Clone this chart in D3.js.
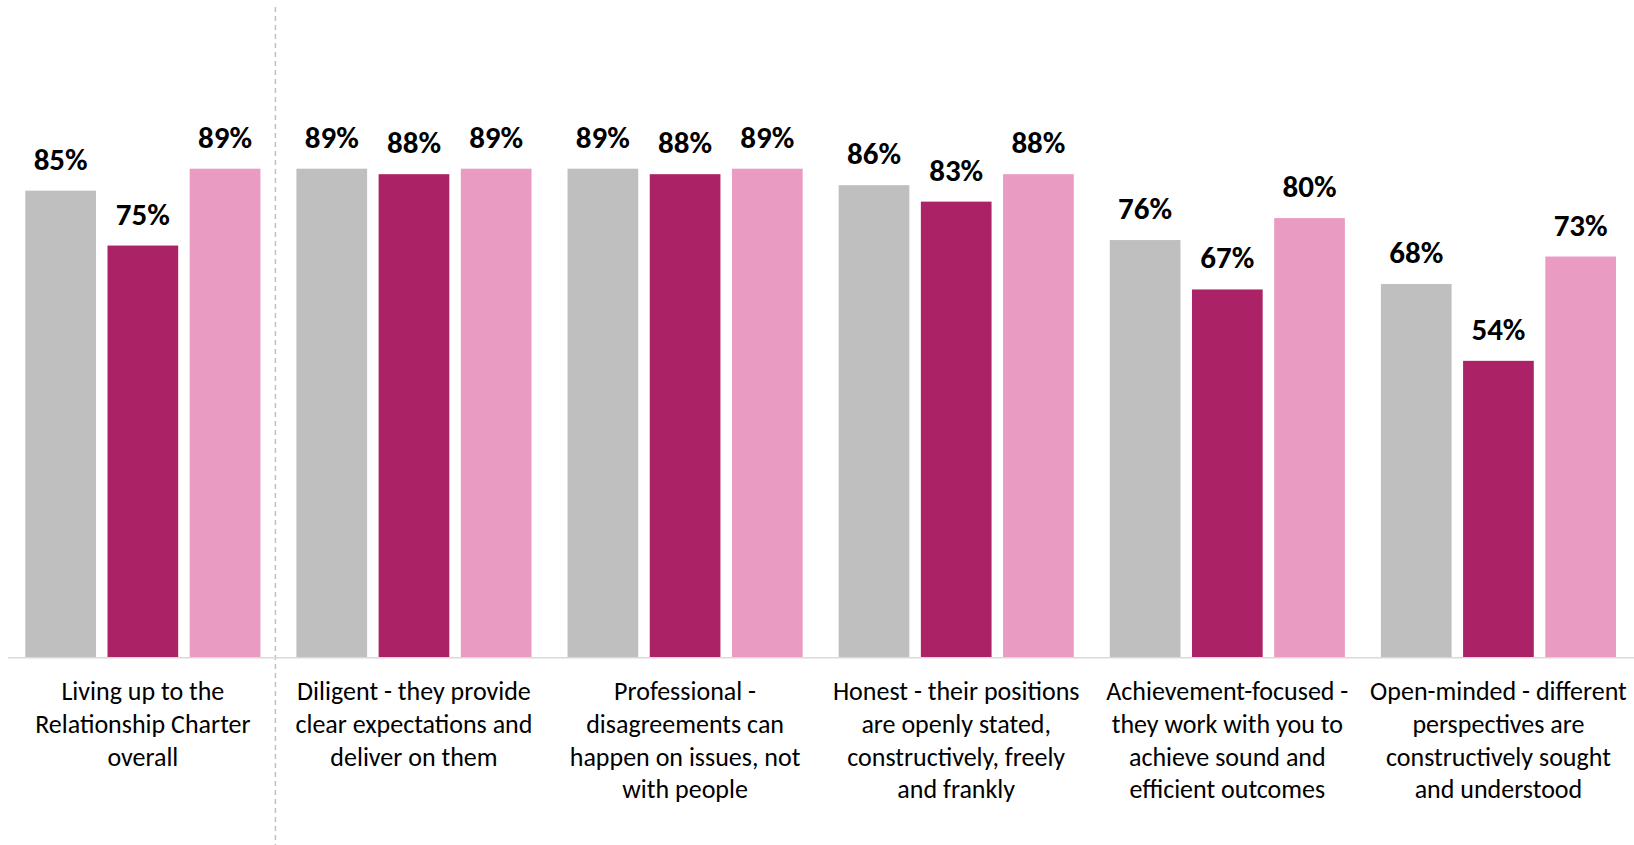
<!DOCTYPE html>
<html lang="en">
<head>
<meta charset="UTF-8"/>
<title>Relationship Charter ratings</title>
<script src="https://d3js.org/d3.v7.min.js"></script>
<style>
  body { margin: 0; background: #fff; }
  svg { display: block; }
  .value { font-family: Carlito, Calibri, Lato, sans-serif; font-weight: bold; font-size: 31px; fill: #000; }
  .cat { font-family: Carlito, Calibri, Lato, sans-serif; font-size: 26px; fill: #000; }
</style>
</head>
<body>
<div id="chart"></div>
<script>
// categories (each one a list of wrapped lines)
var categories = [
  ["Living up to the", "Relationship Charter", "overall"],
  ["Diligent - they provide", "clear expectations and", "deliver on them"],
  ["Professional -", "disagreements can", "happen on issues, not", "with people"],
  ["Honest - their positions", "are openly stated,", "constructively, freely", "and frankly"],
  ["Achievement-focused -", "they work with you to", "achieve sound and", "efficient outcomes"],
  ["Open-minded - different", "perspectives are", "constructively sought", "and understood"]
];

var seriesNames = ["seriesA", "seriesB", "seriesC"];
var seriesColors = ["#bfbfbf", "#ab2266", "#e99bc2"];

// values in %
var seriesA = [85, 89, 89, 86, 76, 68];
var seriesB = [75, 88, 88, 83, 67, 54];
var seriesC = [89, 89, 89, 88, 80, 73];

var w = 1634;
var h = 845;
var plotLeft = 7.3;
var base = 657.3;
var plotTop = base - 549;

var catKeys = categories.map(function(d, i) { return i; });
var values = [seriesA, seriesB, seriesC];

var svg = d3.select("#chart")
  .append("svg")
  .attr("width", w)
  .attr("height", h);

var x0 = d3.scaleBand()
  .domain(catKeys)
  .range([plotLeft, w])
  .paddingInner(0.1328)
  .paddingOuter(0.0664);

var x1 = d3.scaleBand()
  .domain(seriesNames)
  .range([0, x0.bandwidth()])
  .paddingInner(0.14);

var y = d3.scaleLinear()
  .domain([0, 100])
  .range([base, plotTop]);

var color = d3.scaleOrdinal().domain(seriesNames).range(seriesColors);

// flatten into rows
var rows = [];
catKeys.forEach(function(c) {
  seriesNames.forEach(function(s, j) {
    rows.push({ cat: c, series: s, value: values[j][c] });
  });
});

// dashed separator after the first category
var sepX = x0(1) - x0.step() * x0.paddingInner() / 2 - 3;
svg.append("line")
  .attr("x1", sepX).attr("x2", sepX)
  .attr("y1", 7).attr("y2", h)
  .attr("stroke", "#bfbfbf")
  .attr("stroke-width", 1.5)
  .attr("stroke-dasharray", "5,4");

// bars
svg.selectAll("rect.bar")
  .data(rows)
  .enter()
  .append("rect")
  .attr("class", "bar")
  .attr("x", function(d) { return x0(d.cat) + x1(d.series); })
  .attr("y", function(d) { return y(d.value); })
  .attr("width", x1.bandwidth())
  .attr("height", function(d) { return base - y(d.value); })
  .attr("fill", function(d) { return color(d.series); });

// value labels
svg.selectAll("text.value")
  .data(rows)
  .enter()
  .append("text")
  .attr("class", "value")
  .attr("text-anchor", "middle")
  .attr("x", function(d) { return x0(d.cat) + x1(d.series) + x1.bandwidth() / 2; })
  .attr("y", function(d) { return y(d.value) - 21; })
  .text(function(d) { return d.value + "%"; });

// x axis (line only)
var xAxis = d3.axisBottom(x0).tickSize(0).tickFormat("");
var gx = svg.append("g")
  .attr("transform", "translate(0," + base + ")")
  .call(xAxis);
gx.select(".domain")
  .attr("stroke", "#d9d9d9")
  .attr("stroke-width", 1.5);

// category labels
var labels = svg.selectAll("text.cat")
  .data(catKeys)
  .enter()
  .append("text")
  .attr("class", "cat")
  .attr("text-anchor", "middle")
  .attr("x", function(d) { return x0(d) + x0.bandwidth() / 2; })
  .attr("y", base + 43);

labels.selectAll("tspan")
  .data(function(d) { return categories[d]; })
  .enter()
  .append("tspan")
  .attr("x", function() { return d3.select(this.parentNode).attr("x"); })
  .attr("dy", function(d, i) { return i === 0 ? 0 : 32.7; })
  .text(function(d) { return d; });
</script>
</body>
</html>
